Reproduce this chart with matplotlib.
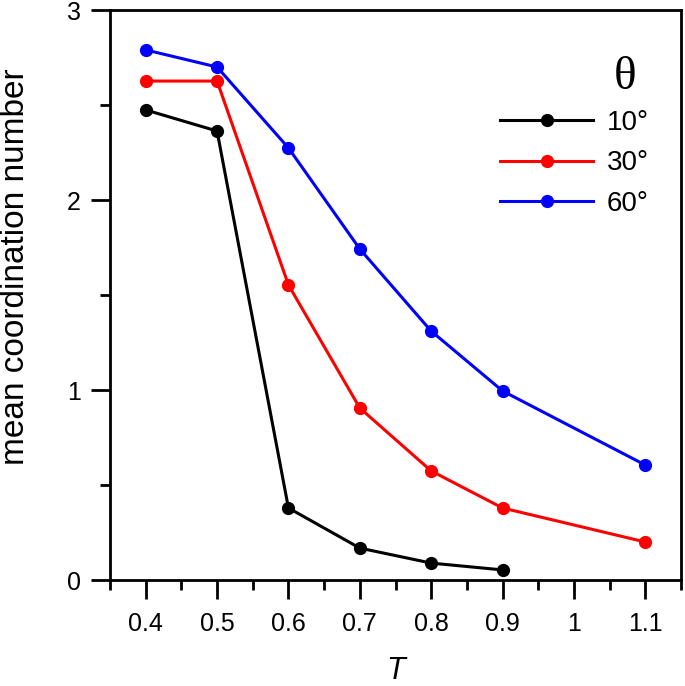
import matplotlib
matplotlib.use("Agg")
import matplotlib.pyplot as plt
from matplotlib.ticker import MultipleLocator, FixedLocator, FixedFormatter

plt.rcParams['font.family'] = ['Liberation Sans', 'DejaVu Sans']

T_10 = [0.4, 0.5, 0.6, 0.7, 0.8, 0.9]
cn_10 = [2.474, 2.363, 0.379, 0.168, 0.089, 0.053]
T_30 = [0.4, 0.5, 0.6, 0.7, 0.8, 0.9, 1.1]
cn_30 = [2.626, 2.626, 1.553, 0.905, 0.574, 0.379, 0.200]
T_60 = [0.4, 0.5, 0.6, 0.7, 0.8, 0.9, 1.1]
cn_60 = [2.790, 2.700, 2.274, 1.742, 1.310, 0.995, 0.605]

xticks = [0.4, 0.5, 0.6, 0.7, 0.8, 0.9, 1.0, 1.1]
xticklabels = ['0.4', '0.5', '0.6', '0.7', '0.8', '0.9', '1', '1.1']

W, H = 685, 686
fig = plt.figure(figsize=(6.85, 6.86), dpi=100)
ax = fig.add_axes([110 / W, 1 - 580 / H, 571 / W, 570 / H])

ax.plot(T_10, cn_10, '-o', color='black', lw=2.2, ms=8.5, label='10°')
ax.plot(T_30, cn_30, '-o', color='#ff0000', lw=2.2, ms=8.5, label='30°')
ax.plot(T_60, cn_60, '-o', color='#0000ff', lw=2.2, ms=8.5, label='60°')

ax.set_xlim(0.35, 1.15)
ax.set_ylim(0, 3)
ax.xaxis.set_major_locator(FixedLocator(xticks))
ax.xaxis.set_major_formatter(FixedFormatter(xticklabels))
ax.xaxis.set_minor_locator(FixedLocator([0.35, 0.45, 0.55, 0.65, 0.75, 0.85, 0.95, 1.05, 1.15]))
ax.yaxis.set_major_locator(MultipleLocator(1))
ax.yaxis.set_minor_locator(MultipleLocator(0.5))

ax.tick_params(which='major', direction='out', length=14, width=2, labelsize=18)
ax.tick_params(which='minor', direction='out', length=7, width=2)
ax.tick_params(axis='x', which='major', pad=9)
ax.tick_params(axis='y', which='major', pad=7)
for s in ax.spines.values():
    s.set_linewidth(2)

ax.set_xlabel('T', fontsize=22, style='italic')
ax.xaxis.set_label_coords(0.5, -(656 - 580) / 570)
ax.set_ylabel('mean coordination number', fontsize=24)
ax.yaxis.set_label_coords(-(110 - 31) / 571, (580 - 267) / 570)

leg = ax.legend(loc='upper left', bbox_to_anchor=(500 / W, 1 - 110 / H),
                bbox_transform=fig.transFigure, frameon=False,
                fontsize=20, handlelength=3.35, handletextpad=0.5, labelspacing=0.52,
                borderpad=0, borderaxespad=0)
fig.text(625 / W, 1 - 78 / H, 'θ', family='Liberation Serif', fontsize=34,
         ha='center', va='center')

fig.savefig('out.png', dpi=100)
